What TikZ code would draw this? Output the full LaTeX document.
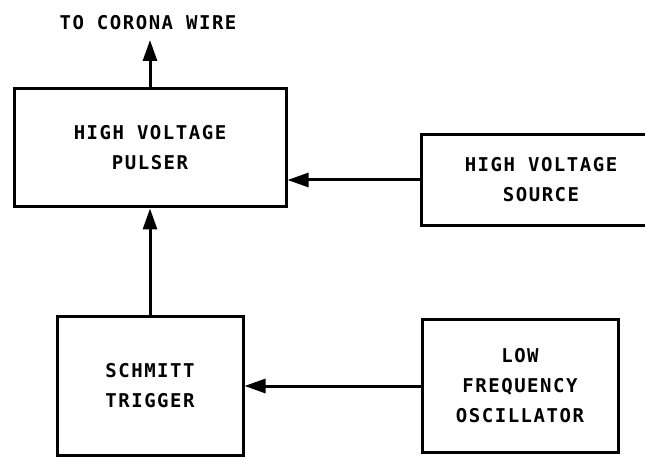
\documentclass[tikz,border=0pt]{standalone}
\usepackage{fontspec}
\usetikzlibrary{positioning,arrows.meta}
\newfontfamily\lblfont{DejaVu Sans Mono}[LetterSpace=8]

\begin{document}
\begin{tikzpicture}[x=1pt,y=1pt,>={Triangle[length=21pt,width=14pt]},line width=3pt,
  block node/.style={rectangle,draw,line width=3pt,align=center,inner sep=0pt,font=\lblfont\bfseries\fontsize{19}{30}\selectfont},
  text node/.style={font=\lblfont\bfseries\fontsize{19}{30}\selectfont}]

            \useasboundingbox (0,0) rectangle (645,458);

            \node[block node, minimum width=272pt, minimum height=118pt] (pulser) at (150,310) {HIGH VOLTAGE\\PULSER};
            \node[block node, minimum width=240pt, minimum height=91pt, node distance=391pt, yshift=-32pt] (source) [right of = pulser] {HIGH VOLTAGE\\SOURCE};
            \node[block node, minimum width=186pt, minimum height=138pt, node distance=238pt] (schmitt) [below of = pulser] {SCHMITT\\TRIGGER};
            \node[block node, minimum width=196pt, minimum height=132pt, node distance=370pt] (lfo) [right of = schmitt] {LOW\\FREQUENCY\\OSCILLATOR};

            \node[text node] (wire label) at (148,435) {TO CORONA WIRE};
            \coordinate (wire) at (150,418);

            \draw[->] (pulser.north) to (wire);
            \draw[->] (schmitt.north) to (pulser.south);
            \draw[->] (source.west) to (source.west -| pulser.east);
            \draw[->] (lfo.west) to (lfo.west -| schmitt.east);

            ;
        \end{tikzpicture}
\end{document}
